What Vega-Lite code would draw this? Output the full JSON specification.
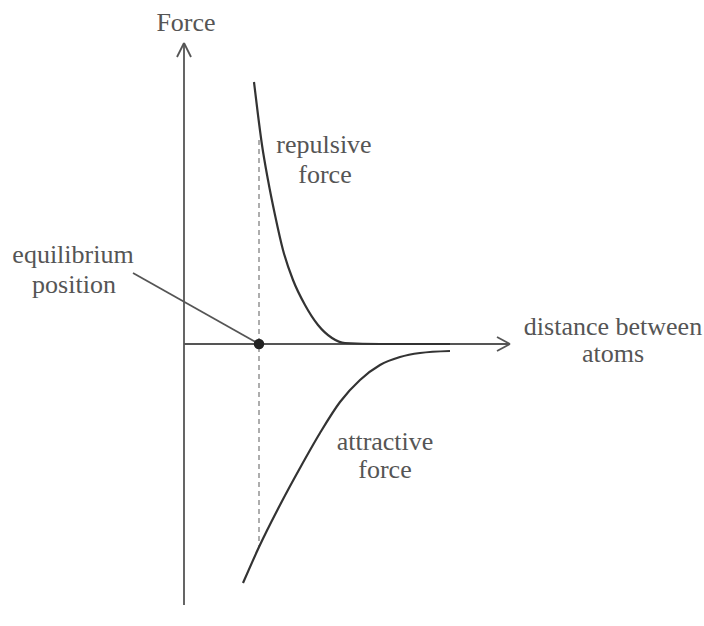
{
  "$schema": "https://vega.github.io/schema/vega-lite/v6.json",
  "width": 704,
  "height": 626,
  "autosize": {"type": "none"},
  "padding": 0,
  "background": "white",
  "config": {"view": {"stroke": null}},
  "datasets": {
    "segments": [
      {"seg": "y-axis", "x": 0, "y": -2.61, "x2": 0, "y2": 3.01},
      {"seg": "y-arrow-l", "x": -0.07, "y": 2.87, "x2": 0, "y2": 3.01},
      {"seg": "y-arrow-r", "x": 0.07, "y": 2.87, "x2": 0, "y2": 3.01},
      {"seg": "x-axis", "x": 0, "y": 0, "x2": 3.26, "y2": 0},
      {"seg": "x-arrow-u", "x": 3.13, "y": 0.07, "x2": 3.26, "y2": 0},
      {"seg": "x-arrow-d", "x": 3.13, "y": -0.07, "x2": 3.26, "y2": 0},
      {"seg": "pointer", "x": -0.51, "y": 0.71, "x2": 0.75, "y2": 0}
    ],
    "dashed": [
      {"x": 0.75, "y": 2.04, "x2": 0.75, "y2": -2.03}
    ],
    "curves": [
      {"series": "repulsive", "i": 0, "x": 0.70, "y": 2.62},
      {"series": "repulsive", "i": 1, "x": 0.74, "y": 2.29},
      {"series": "repulsive", "i": 2, "x": 0.78, "y": 1.99},
      {"series": "repulsive", "i": 3, "x": 0.84, "y": 1.64},
      {"series": "repulsive", "i": 4, "x": 0.91, "y": 1.29},
      {"series": "repulsive", "i": 5, "x": 0.99, "y": 0.94},
      {"series": "repulsive", "i": 6, "x": 1.09, "y": 0.64},
      {"series": "repulsive", "i": 7, "x": 1.21, "y": 0.39},
      {"series": "repulsive", "i": 8, "x": 1.34, "y": 0.19},
      {"series": "repulsive", "i": 9, "x": 1.48, "y": 0.06},
      {"series": "repulsive", "i": 10, "x": 1.61, "y": 0.01},
      {"series": "repulsive", "i": 11, "x": 1.96, "y": 0.0},
      {"series": "repulsive", "i": 12, "x": 2.66, "y": 0.0},
      {"series": "attractive", "i": 0, "x": 0.59, "y": -2.39},
      {"series": "attractive", "i": 1, "x": 0.75, "y": -2.03},
      {"series": "attractive", "i": 2, "x": 0.96, "y": -1.61},
      {"series": "attractive", "i": 3, "x": 1.16, "y": -1.24},
      {"series": "attractive", "i": 4, "x": 1.36, "y": -0.89},
      {"series": "attractive", "i": 5, "x": 1.56, "y": -0.58},
      {"series": "attractive", "i": 6, "x": 1.76, "y": -0.36},
      {"series": "attractive", "i": 7, "x": 1.96, "y": -0.21},
      {"series": "attractive", "i": 8, "x": 2.16, "y": -0.13},
      {"series": "attractive", "i": 9, "x": 2.36, "y": -0.09},
      {"series": "attractive", "i": 10, "x": 2.66, "y": -0.07}
    ],
    "dot": [{"x": 0.75, "y": 0}],
    "labels": [
      {"text": "Force", "x": 0.02, "y": 3.21},
      {"text": "equilibrium", "x": -1.11, "y": 0.89},
      {"text": "position", "x": -1.10, "y": 0.59},
      {"text": "repulsive", "x": 1.40, "y": 1.99},
      {"text": "force", "x": 1.41, "y": 1.69},
      {"text": "distance between", "x": 4.29, "y": 0.17},
      {"text": "atoms", "x": 4.29, "y": -0.10},
      {"text": "attractive", "x": 2.01, "y": -0.98},
      {"text": "force", "x": 2.01, "y": -1.26}
    ]
  },
  "layer": [
    {
      "data": {"name": "segments"},
      "mark": {"type": "rule", "stroke": "#555555", "strokeWidth": 1.8},
      "encoding": {
        "x": {"field": "x", "type": "quantitative", "scale": {"domain": [-1.84, 5.2], "nice": false, "zero": false}, "axis": null},
        "y": {"field": "y", "type": "quantitative", "scale": {"domain": [-2.82, 3.44], "nice": false, "zero": false}, "axis": null},
        "x2": {"field": "x2"},
        "y2": {"field": "y2"}
      }
    },
    {
      "data": {"name": "dashed"},
      "mark": {"type": "rule", "stroke": "#777777", "strokeWidth": 1.2, "strokeDash": [5, 4]},
      "encoding": {
        "x": {"field": "x", "type": "quantitative"},
        "y": {"field": "y", "type": "quantitative"},
        "x2": {"field": "x2"},
        "y2": {"field": "y2"}
      }
    },
    {
      "data": {"name": "curves"},
      "mark": {"type": "line", "stroke": "#333333", "strokeWidth": 2.2, "interpolate": "monotone"},
      "encoding": {
        "x": {"field": "x", "type": "quantitative"},
        "y": {"field": "y", "type": "quantitative"},
        "detail": {"field": "series"},
        "order": {"field": "i", "type": "quantitative"}
      }
    },
    {
      "data": {"name": "dot"},
      "mark": {"type": "point", "filled": true, "color": "#222222", "size": 110, "opacity": 1},
      "encoding": {
        "x": {"field": "x", "type": "quantitative"},
        "y": {"field": "y", "type": "quantitative"}
      }
    },
    {
      "data": {"name": "labels"},
      "mark": {"type": "text", "font": "Liberation Serif", "fontSize": 26, "color": "#555555", "align": "center", "baseline": "middle"},
      "encoding": {
        "x": {"field": "x", "type": "quantitative"},
        "y": {"field": "y", "type": "quantitative"},
        "text": {"field": "text"}
      }
    }
  ]
}
